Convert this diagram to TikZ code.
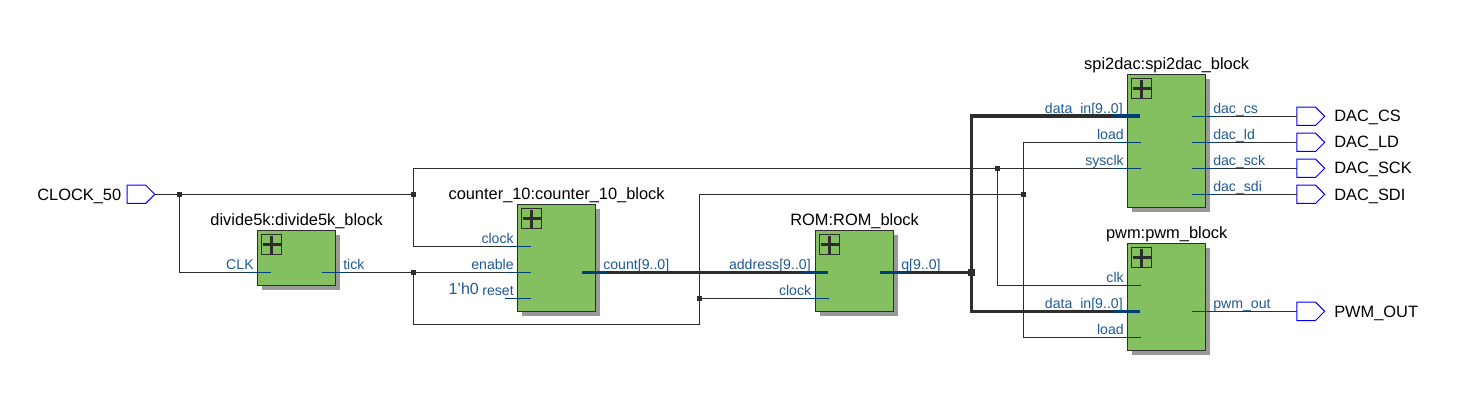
\documentclass[tikz,border=0pt]{standalone}
\usepackage{fontspec}
\setmainfont{Liberation Sans}
\usetikzlibrary{calc,shadows,shapes.symbols}
\definecolor{wirec}{HTML}{2D2D2D}
\definecolor{stubc}{HTML}{004078}
\definecolor{portc}{HTML}{1F5A96}
\definecolor{blockc}{HTML}{85C060}
\definecolor{shadowc}{HTML}{999999}
\tikzset{
  x=0.75pt,y=-0.75pt,
  wire/.style={draw=wirec,line width=0.95pt},
  bus/.style={draw=wirec,line width=2.7pt,line join=miter},
  stub/.style={draw=stubc,line width=0.8pt},
  busstub/.style={draw=stubc,line width=2.7pt},
  block/.style={rectangle,draw=wirec,line width=0.95pt,fill=blockc,inner sep=0pt,outer sep=0pt,
    copy shadow={opacity=1,fill=shadowc,draw=none,shadow xshift=3.4pt,shadow yshift=-3.4pt}},
  plusbox/.style={rectangle,draw=wirec,line width=0.75pt,inner sep=0pt,outer sep=0pt,minimum size=15.3pt},
  plussign/.style={draw=wirec,line width=2.6pt},
  title/.style={anchor=base,inner sep=0pt,font=\fontsize{12.3}{14}\selectfont,text=black},
  pinlabel/.style={anchor=base west,inner sep=0pt,font=\fontsize{12.3}{14}\selectfont,text=black},
  inlabel/.style={anchor=base east,inner sep=0pt,font=\fontsize{10.6}{12}\selectfont,text=portc},
  outlabel/.style={anchor=base west,inner sep=0pt,font=\fontsize{10.6}{12}\selectfont,text=portc},
  conlabel/.style={anchor=base west,inner sep=0pt,font=\fontsize{12}{14}\selectfont,text=portc},
  junction/.style={rectangle,fill=wirec,inner sep=0pt,outer sep=0pt,minimum size=3.9pt},
  busjunction/.style={rectangle,fill=wirec,inner sep=0pt,outer sep=0pt,minimum size=5.4pt},
  pin/.style={signal,signal to=east,signal from=nowhere,draw=blue,line width=0.75pt,fill=white,
    inner sep=0pt,outer sep=0pt,minimum width=20.8pt,minimum height=13.8pt},
}
% name, x1, y1, x2, y2, title
\newcommand\hdlblock[6]{%
  \pgfmathsetmacro\bw{(#4-#2)*0.75}\pgfmathsetmacro\bh{(#5-#3)*0.75}%
  \node[block,minimum width=\bw pt,minimum height=\bh pt] (#1) at ({(#2+#4)/2},{(#3+#5)/2}) {};
  \node[plusbox] (#1-plus) at ({#2+14},{#3+14.2}) {};
  \draw[plussign] ($(#1-plus)+(-9,0)$) -- ($(#1-plus)+(9,0)$);
  \draw[plussign] ($(#1-plus)+(0,-9)$) -- ($(#1-plus)+(0,9)$);
  \node[title] (#1-title) at ($(#1.north)+(0,-5)$) {#6};
}
% coordinate name, x, y, label  (stub end / start)
\newcommand\inport[4]{\coordinate (#1) at (#2,#3);
  \node[inlabel] (#1-label) at ($(#1)+(-17,-3)$) {#4};}
\newcommand\outport[4]{\coordinate (#1) at (#2,#3);
  \node[outlabel] (#1-label) at ($(#1)+(21,-3)$) {#4};}
\begin{document}
\begin{tikzpicture}
\useasboundingbox (0,0) rectangle (1478,417);
\fill[white] (0,0) rectangle (1478,417);

% blocks
\hdlblock{div}{257.5}{230.5}{335.7}{285.7}{divide5k:divide5k\_block}
\hdlblock{cnt}{517.5}{204.5}{595.7}{311.7}{counter\_10:counter\_10\_block}
\hdlblock{rom}{815.7}{230.5}{893.5}{311.5}{ROM:ROM\_block}
\hdlblock{spi}{1127.7}{74.5}{1205.7}{207.5}{spi2dac:spi2dac\_block}
\hdlblock{pwm}{1127.7}{243.5}{1205.7}{350.5}{pwm:pwm\_block}

% ports
\inport{div-clk}{271}{272.3}{CLK}
\outport{div-tick}{322}{272.3}{tick}
\inport{cnt-clock}{531}{246.3}{clock}
\inport{cnt-enable}{531}{272.3}{enable}
\inport{cnt-reset}{531}{298.3}{reset}
\outport{cnt-count}{582}{272.3}{count[9..0]}
\inport{rom-address}{828}{272.3}{address[9..0]}
\inport{rom-clock}{828.5}{298.3}{clock}
\outport{rom-q}{880}{272.3}{q[9..0]}
\inport{spi-data}{1140}{116.3}{data\_in[9..0]}
\inport{spi-load}{1141}{142.3}{load}
\inport{spi-sysclk}{1141}{168.3}{sysclk}
\outport{spi-cs}{1192}{116.3}{dac\_cs}
\outport{spi-ld}{1192}{142.3}{dac\_ld}
\outport{spi-sck}{1192}{168.3}{dac\_sck}
\outport{spi-sdi}{1192}{194.3}{dac\_sdi}
\inport{pwm-clk}{1141}{285.3}{clk}
\inport{pwm-data}{1140}{311.3}{data\_in[9..0]}
\inport{pwm-load}{1141}{337.3}{load}
\outport{pwm-out}{1192}{311.3}{pwm\_out}
\node[conlabel] (const0) at (448.3,294) {1'h0};

% pins
\node[pin] (clk50) at (136.3,194.3) {};
\node[pinlabel,anchor=base east] (clk50-label) at (121.5,200) {CLOCK\_50};
\node[pin] (pcs) at (1306.2,116.3) {};
\node[pinlabel] (pcs-label) at (1334,122) {DAC\_CS};
\node[pin] (pld) at (1306.2,142.3) {};
\node[pinlabel] (pld-label) at (1334,148) {DAC\_LD};
\node[pin] (psck) at (1306.2,168.3) {};
\node[pinlabel] (psck-label) at (1334,174) {DAC\_SCK};
\node[pin] (psdi) at (1306.2,194.3) {};
\node[pinlabel] (psdi-label) at (1334,200) {DAC\_SDI};
\node[pin] (ppwm) at (1306.2,311.3) {};
\node[pinlabel] (ppwm-label) at (1334,317) {PWM\_OUT};

% junctions and bends
\node[junction] (j1) at (179.3,194.3) {};
\node[junction] (j2) at (413.3,194.3) {};
\node[junction] (j3) at (413.3,272.3) {};
\node[junction] (j4) at (699.3,298.3) {};
\node[junction] (j5) at (1023.3,194.3) {};
\node[junction] (j6) at (997.3,168.3) {};
\node[busjunction] (j7) at (971.5,272.3) {};
\coordinate (b1) at (699.3,324.3);
\coordinate (b2) at (699.3,194.3);

% wires
\draw[wire] (clk50.east) -- (j1.center) -- (j2.center);
\draw[wire] (j1.center) |- (div-clk);
\draw[wire] (j2.center) |- (spi-sysclk);
\draw[wire] (j2.center) |- (cnt-clock);
\draw[wire] (div-tick) -- (j3.center) -- (cnt-enable);
\draw[wire] (j3.center) |- (b1) -- (j4.center) -- (b2) -- (j5.center);
\draw[wire] (j4.center) -- (rom-clock);
\draw[wire] (j5.center) |- (spi-load);
\draw[wire] (j5.center) |- (pwm-load);
\draw[wire] (j6.center) |- (pwm-clk);
\draw[wire] (spi-cs) -- (pcs.west);
\draw[wire] (spi-ld) -- (pld.west);
\draw[wire] (spi-sck) -- (psck.west);
\draw[wire] (spi-sdi) -- (psdi.west);
\draw[wire] (pwm-out) -- (ppwm.west);
\draw[bus] (cnt-count) -- (rom-address);
\draw[bus] (rom-q) -- (j7.center);
\draw[bus] (j7.center) |- (spi-data);
\draw[bus] (j7.center) |- (pwm-data);

% port stubs
\foreach \p in {div-clk,cnt-clock,cnt-enable,cnt-reset,rom-clock,spi-load,spi-sysclk,pwm-clk,pwm-load}
  \draw[stub] (\p) -- ++(-26,0);
\foreach \p in {div-tick,spi-cs,spi-ld,spi-sck,spi-sdi,pwm-out}
  \draw[stub] (\p) -- ++(26,0);
\foreach \p in {rom-address,spi-data,pwm-data}
  \draw[busstub] (\p) -- ++(-26,0);
\foreach \p in {cnt-count,rom-q}
  \draw[busstub] (\p) -- ++(26,0);
\end{tikzpicture}
\end{document}
